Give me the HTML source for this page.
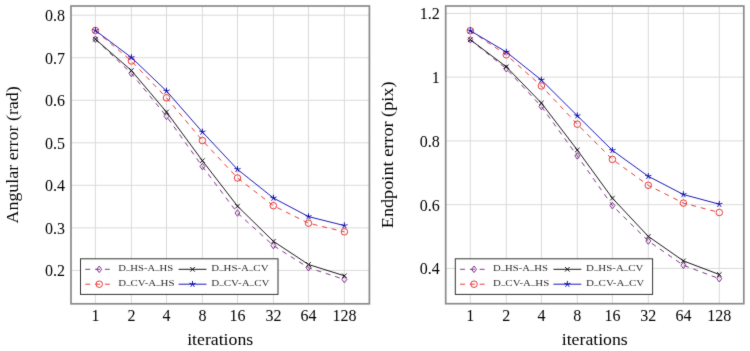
<!DOCTYPE html>
<html><head><meta charset="utf-8"><style>
html,body{margin:0;padding:0;background:#fff;}
#w{width:750px;height:351px;}
svg{display:block;font-family:"Liberation Serif",serif;}
</style></head><body><div id="w">
<svg width="750" height="351" viewBox="0 0 750 351">
<defs><filter id="bl" x="0" y="0" width="100%" height="100%" color-interpolation-filters="sRGB"><feConvolveMatrix order="3" kernelMatrix="1 8 1 8 64 8 1 8 1" divisor="100" edgeMode="duplicate"/></filter></defs>
<g filter="url(#bl)">
<rect width="750" height="351" fill="#fff"/>
<path d="M95.40,6.00 V303.80 M131.40,6.00 V303.80 M166.50,6.00 V303.80 M202.40,6.00 V303.80 M237.50,6.00 V303.80 M273.40,6.00 V303.80 M308.50,6.00 V303.80 M344.40,6.00 V303.80 M71.00,270.40 H369.40 M71.00,227.86 H369.40 M71.00,185.33 H369.40 M71.00,142.80 H369.40 M71.00,100.27 H369.40 M71.00,57.73 H369.40 M71.00,15.20 H369.40 " stroke="#dadada" stroke-width="1.0" fill="none"/>
<polyline points="95.40,39.20 131.40,73.50 166.50,116.30 202.40,166.50 237.50,213.00 273.40,245.60 308.50,267.70 344.40,279.50" fill="none" stroke="#742080" stroke-width="0.9" stroke-dasharray="4.9 4.9"/>
<path d="M95.40,35.93 L97.85,39.20 L95.40,42.47 L92.95,39.20 Z" fill="none" stroke="#742080" stroke-width="0.9"/>
<path d="M131.40,70.23 L133.85,73.50 L131.40,76.77 L128.95,73.50 Z" fill="none" stroke="#742080" stroke-width="0.9"/>
<path d="M166.50,113.03 L168.95,116.30 L166.50,119.57 L164.05,116.30 Z" fill="none" stroke="#742080" stroke-width="0.9"/>
<path d="M202.40,163.23 L204.85,166.50 L202.40,169.77 L199.95,166.50 Z" fill="none" stroke="#742080" stroke-width="0.9"/>
<path d="M237.50,209.73 L239.95,213.00 L237.50,216.27 L235.05,213.00 Z" fill="none" stroke="#742080" stroke-width="0.9"/>
<path d="M273.40,242.33 L275.85,245.60 L273.40,248.87 L270.95,245.60 Z" fill="none" stroke="#742080" stroke-width="0.9"/>
<path d="M308.50,264.43 L310.95,267.70 L308.50,270.97 L306.05,267.70 Z" fill="none" stroke="#742080" stroke-width="0.9"/>
<path d="M344.40,276.23 L346.85,279.50 L344.40,282.77 L341.95,279.50 Z" fill="none" stroke="#742080" stroke-width="0.9"/>
<polyline points="95.40,39.20 131.40,70.50 166.50,112.00 202.40,160.70 237.50,206.20 273.40,241.30 308.50,264.50 344.40,275.80" fill="none" stroke="#000000" stroke-width="0.9"/>
<path d="M93.09,36.89 L97.71,41.51 M93.09,41.51 L97.71,36.89" stroke="#000000" stroke-width="0.9"/>
<path d="M129.09,68.19 L133.71,72.81 M129.09,72.81 L133.71,68.19" stroke="#000000" stroke-width="0.9"/>
<path d="M164.19,109.69 L168.81,114.31 M164.19,114.31 L168.81,109.69" stroke="#000000" stroke-width="0.9"/>
<path d="M200.09,158.39 L204.71,163.01 M200.09,163.01 L204.71,158.39" stroke="#000000" stroke-width="0.9"/>
<path d="M235.19,203.89 L239.81,208.51 M235.19,208.51 L239.81,203.89" stroke="#000000" stroke-width="0.9"/>
<path d="M271.09,238.99 L275.71,243.61 M271.09,243.61 L275.71,238.99" stroke="#000000" stroke-width="0.9"/>
<path d="M306.19,262.19 L310.81,266.81 M306.19,266.81 L310.81,262.19" stroke="#000000" stroke-width="0.9"/>
<path d="M342.09,273.49 L346.71,278.11 M342.09,278.11 L346.71,273.49" stroke="#000000" stroke-width="0.9"/>
<polyline points="95.40,30.50 131.40,61.00 166.50,97.80 202.40,140.50 237.50,178.00 273.40,205.70 308.50,223.20 344.40,231.80" fill="none" stroke="#e82424" stroke-width="0.9" stroke-dasharray="4.9 4.9"/>
<circle cx="95.40" cy="30.50" r="3.27" fill="none" stroke="#e82424" stroke-width="0.9"/>
<circle cx="131.40" cy="61.00" r="3.27" fill="none" stroke="#e82424" stroke-width="0.9"/>
<circle cx="166.50" cy="97.80" r="3.27" fill="none" stroke="#e82424" stroke-width="0.9"/>
<circle cx="202.40" cy="140.50" r="3.27" fill="none" stroke="#e82424" stroke-width="0.9"/>
<circle cx="237.50" cy="178.00" r="3.27" fill="none" stroke="#e82424" stroke-width="0.9"/>
<circle cx="273.40" cy="205.70" r="3.27" fill="none" stroke="#e82424" stroke-width="0.9"/>
<circle cx="308.50" cy="223.20" r="3.27" fill="none" stroke="#e82424" stroke-width="0.9"/>
<circle cx="344.40" cy="231.80" r="3.27" fill="none" stroke="#e82424" stroke-width="0.9"/>
<polyline points="95.40,30.50 131.40,57.50 166.50,91.00 202.40,132.00 237.50,169.40 273.40,198.00 308.50,216.60 344.40,225.60" fill="none" stroke="#0000b0" stroke-width="0.9"/>
<path d="M95.40,30.50 L95.40,27.23 M95.40,30.50 L98.51,29.49 M95.40,30.50 L97.32,33.15 M95.40,30.50 L93.48,33.15 M95.40,30.50 L92.29,29.49 " stroke="#0000b0" stroke-width="0.9"/>
<path d="M131.40,57.50 L131.40,54.23 M131.40,57.50 L134.51,56.49 M131.40,57.50 L133.32,60.15 M131.40,57.50 L129.48,60.15 M131.40,57.50 L128.29,56.49 " stroke="#0000b0" stroke-width="0.9"/>
<path d="M166.50,91.00 L166.50,87.73 M166.50,91.00 L169.61,89.99 M166.50,91.00 L168.42,93.65 M166.50,91.00 L164.58,93.65 M166.50,91.00 L163.39,89.99 " stroke="#0000b0" stroke-width="0.9"/>
<path d="M202.40,132.00 L202.40,128.73 M202.40,132.00 L205.51,130.99 M202.40,132.00 L204.32,134.65 M202.40,132.00 L200.48,134.65 M202.40,132.00 L199.29,130.99 " stroke="#0000b0" stroke-width="0.9"/>
<path d="M237.50,169.40 L237.50,166.13 M237.50,169.40 L240.61,168.39 M237.50,169.40 L239.42,172.05 M237.50,169.40 L235.58,172.05 M237.50,169.40 L234.39,168.39 " stroke="#0000b0" stroke-width="0.9"/>
<path d="M273.40,198.00 L273.40,194.73 M273.40,198.00 L276.51,196.99 M273.40,198.00 L275.32,200.65 M273.40,198.00 L271.48,200.65 M273.40,198.00 L270.29,196.99 " stroke="#0000b0" stroke-width="0.9"/>
<path d="M308.50,216.60 L308.50,213.33 M308.50,216.60 L311.61,215.59 M308.50,216.60 L310.42,219.25 M308.50,216.60 L306.58,219.25 M308.50,216.60 L305.39,215.59 " stroke="#0000b0" stroke-width="0.9"/>
<path d="M344.40,225.60 L344.40,222.33 M344.40,225.60 L347.51,224.59 M344.40,225.60 L346.32,228.25 M344.40,225.60 L342.48,228.25 M344.40,225.60 L341.29,224.59 " stroke="#0000b0" stroke-width="0.9"/>
<rect x="80.50" y="258.80" width="197.50" height="35.60" fill="#fff" stroke="#333" stroke-width="1.0"/>
<path d="M85.30,269.30 H90.20 M95.10,269.30 H100.00 M104.90,269.30 H109.80" stroke="#742080" stroke-width="0.9"/>
<path d="M99.23,266.03 L101.68,269.30 L99.23,272.57 L96.78,269.30 Z" fill="none" stroke="#742080" stroke-width="0.9"/>
<text x="118.30" y="271.00" font-size="8" fill="#2a2a2a" textLength="54.9" lengthAdjust="spacingAndGlyphs">D<tspan font-size="6.5" font-weight="bold" dy="-0.6">_</tspan><tspan dy="0.6">HS-A</tspan><tspan font-size="6.5" font-weight="bold" dy="-0.6">_</tspan><tspan dy="0.6">HS</tspan></text>
<path d="M178.60,269.30 H206.48" stroke="#000000" stroke-width="0.9"/>
<path d="M190.22,266.99 L194.84,271.61 M190.22,271.61 L194.84,266.99" stroke="#000000" stroke-width="0.9"/>
<text x="211.30" y="271.00" font-size="8" fill="#2a2a2a" textLength="57.2" lengthAdjust="spacingAndGlyphs">D<tspan font-size="6.5" font-weight="bold" dy="-0.6">_</tspan><tspan dy="0.6">HS-A</tspan><tspan font-size="6.5" font-weight="bold" dy="-0.6">_</tspan><tspan dy="0.6">CV</tspan></text>
<path d="M85.30,284.20 H90.20 M95.10,284.20 H100.00 M104.90,284.20 H109.80" stroke="#e82424" stroke-width="0.9"/>
<circle cx="99.23" cy="284.20" r="3.27" fill="none" stroke="#e82424" stroke-width="0.9"/>
<text x="118.30" y="285.80" font-size="8" fill="#2a2a2a" textLength="56.2" lengthAdjust="spacingAndGlyphs">D<tspan font-size="6.5" font-weight="bold" dy="-0.6">_</tspan><tspan dy="0.6">CV-A</tspan><tspan font-size="6.5" font-weight="bold" dy="-0.6">_</tspan><tspan dy="0.6">HS</tspan></text>
<path d="M178.60,284.20 H206.48" stroke="#0000b0" stroke-width="0.9"/>
<path d="M192.53,284.20 L192.53,280.93 M192.53,284.20 L195.64,283.19 M192.53,284.20 L194.45,286.85 M192.53,284.20 L190.61,286.85 M192.53,284.20 L189.42,283.19 " stroke="#0000b0" stroke-width="0.9"/>
<text x="211.30" y="285.80" font-size="8" fill="#2a2a2a" textLength="58.2" lengthAdjust="spacingAndGlyphs">D<tspan font-size="6.5" font-weight="bold" dy="-0.6">_</tspan><tspan dy="0.6">CV-A</tspan><tspan font-size="6.5" font-weight="bold" dy="-0.6">_</tspan><tspan dy="0.6">CV</tspan></text>
<rect x="71.00" y="6.00" width="298.40" height="297.80" fill="none" stroke="#8a8a8a" stroke-width="1.7"/>
<text x="95.40" y="320.5" text-anchor="middle" font-size="16">1</text>
<text x="131.40" y="320.5" text-anchor="middle" font-size="16">2</text>
<text x="166.50" y="320.5" text-anchor="middle" font-size="16">4</text>
<text x="202.40" y="320.5" text-anchor="middle" font-size="16">8</text>
<text x="237.50" y="320.5" text-anchor="middle" font-size="16">16</text>
<text x="273.40" y="320.5" text-anchor="middle" font-size="16">32</text>
<text x="308.50" y="320.5" text-anchor="middle" font-size="16">64</text>
<text x="344.40" y="320.5" text-anchor="middle" font-size="16">128</text>
<text x="65.10" y="276.40" text-anchor="end" font-size="16">0.2</text>
<text x="65.10" y="233.86" text-anchor="end" font-size="16">0.3</text>
<text x="65.10" y="191.33" text-anchor="end" font-size="16">0.4</text>
<text x="65.10" y="148.80" text-anchor="end" font-size="16">0.5</text>
<text x="65.10" y="106.27" text-anchor="end" font-size="16">0.6</text>
<text x="65.10" y="63.73" text-anchor="end" font-size="16">0.7</text>
<text x="65.10" y="21.20" text-anchor="end" font-size="16">0.8</text>
<text x="220.20" y="345" text-anchor="middle" font-size="16" textLength="66" lengthAdjust="spacingAndGlyphs">iterations</text>
<text transform="translate(18.20,154.90) rotate(-90)" x="0" y="0" text-anchor="middle" font-size="16" textLength="137.2" lengthAdjust="spacingAndGlyphs">Angular error (rad)</text>
<path d="M470.30,6.00 V303.70 M506.30,6.00 V303.70 M541.40,6.00 V303.70 M577.30,6.00 V303.70 M612.40,6.00 V303.70 M648.30,6.00 V303.70 M683.40,6.00 V303.70 M719.30,6.00 V303.70 M445.70,268.40 H743.80 M445.70,204.65 H743.80 M445.70,140.90 H743.80 M445.70,77.15 H743.80 M445.70,13.40 H743.80 " stroke="#dadada" stroke-width="1.0" fill="none"/>
<polyline points="470.30,39.70 506.30,68.70 541.40,106.50 577.30,155.90 612.40,205.60 648.30,241.00 683.40,265.30 719.30,278.70" fill="none" stroke="#742080" stroke-width="0.9" stroke-dasharray="4.9 4.9"/>
<path d="M470.30,36.43 L472.75,39.70 L470.30,42.97 L467.85,39.70 Z" fill="none" stroke="#742080" stroke-width="0.9"/>
<path d="M506.30,65.43 L508.75,68.70 L506.30,71.97 L503.85,68.70 Z" fill="none" stroke="#742080" stroke-width="0.9"/>
<path d="M541.40,103.23 L543.85,106.50 L541.40,109.77 L538.95,106.50 Z" fill="none" stroke="#742080" stroke-width="0.9"/>
<path d="M577.30,152.63 L579.75,155.90 L577.30,159.17 L574.85,155.90 Z" fill="none" stroke="#742080" stroke-width="0.9"/>
<path d="M612.40,202.33 L614.85,205.60 L612.40,208.87 L609.95,205.60 Z" fill="none" stroke="#742080" stroke-width="0.9"/>
<path d="M648.30,237.73 L650.75,241.00 L648.30,244.27 L645.85,241.00 Z" fill="none" stroke="#742080" stroke-width="0.9"/>
<path d="M683.40,262.03 L685.85,265.30 L683.40,268.57 L680.95,265.30 Z" fill="none" stroke="#742080" stroke-width="0.9"/>
<path d="M719.30,275.43 L721.75,278.70 L719.30,281.97 L716.85,278.70 Z" fill="none" stroke="#742080" stroke-width="0.9"/>
<polyline points="470.30,39.70 506.30,66.80 541.40,103.00 577.30,150.00 612.40,198.20 648.30,236.40 683.40,260.90 719.30,274.50" fill="none" stroke="#000000" stroke-width="0.9"/>
<path d="M467.99,37.39 L472.61,42.01 M467.99,42.01 L472.61,37.39" stroke="#000000" stroke-width="0.9"/>
<path d="M503.99,64.49 L508.61,69.11 M503.99,69.11 L508.61,64.49" stroke="#000000" stroke-width="0.9"/>
<path d="M539.09,100.69 L543.71,105.31 M539.09,105.31 L543.71,100.69" stroke="#000000" stroke-width="0.9"/>
<path d="M574.99,147.69 L579.61,152.31 M574.99,152.31 L579.61,147.69" stroke="#000000" stroke-width="0.9"/>
<path d="M610.09,195.89 L614.71,200.51 M610.09,200.51 L614.71,195.89" stroke="#000000" stroke-width="0.9"/>
<path d="M645.99,234.09 L650.61,238.71 M645.99,238.71 L650.61,234.09" stroke="#000000" stroke-width="0.9"/>
<path d="M681.09,258.59 L685.71,263.21 M681.09,263.21 L685.71,258.59" stroke="#000000" stroke-width="0.9"/>
<path d="M716.99,272.19 L721.61,276.81 M716.99,276.81 L721.61,272.19" stroke="#000000" stroke-width="0.9"/>
<polyline points="470.30,30.70 506.30,54.80 541.40,86.00 577.30,124.20 612.40,159.40 648.30,185.30 683.40,203.10 719.30,212.50" fill="none" stroke="#e82424" stroke-width="0.9" stroke-dasharray="4.9 4.9"/>
<circle cx="470.30" cy="30.70" r="3.27" fill="none" stroke="#e82424" stroke-width="0.9"/>
<circle cx="506.30" cy="54.80" r="3.27" fill="none" stroke="#e82424" stroke-width="0.9"/>
<circle cx="541.40" cy="86.00" r="3.27" fill="none" stroke="#e82424" stroke-width="0.9"/>
<circle cx="577.30" cy="124.20" r="3.27" fill="none" stroke="#e82424" stroke-width="0.9"/>
<circle cx="612.40" cy="159.40" r="3.27" fill="none" stroke="#e82424" stroke-width="0.9"/>
<circle cx="648.30" cy="185.30" r="3.27" fill="none" stroke="#e82424" stroke-width="0.9"/>
<circle cx="683.40" cy="203.10" r="3.27" fill="none" stroke="#e82424" stroke-width="0.9"/>
<circle cx="719.30" cy="212.50" r="3.27" fill="none" stroke="#e82424" stroke-width="0.9"/>
<polyline points="470.30,30.70 506.30,52.00 541.40,80.00 577.30,115.70 612.40,150.40 648.30,176.30 683.40,194.50 719.30,204.20" fill="none" stroke="#0000b0" stroke-width="0.9"/>
<path d="M470.30,30.70 L470.30,27.43 M470.30,30.70 L473.41,29.69 M470.30,30.70 L472.22,33.35 M470.30,30.70 L468.38,33.35 M470.30,30.70 L467.19,29.69 " stroke="#0000b0" stroke-width="0.9"/>
<path d="M506.30,52.00 L506.30,48.73 M506.30,52.00 L509.41,50.99 M506.30,52.00 L508.22,54.65 M506.30,52.00 L504.38,54.65 M506.30,52.00 L503.19,50.99 " stroke="#0000b0" stroke-width="0.9"/>
<path d="M541.40,80.00 L541.40,76.73 M541.40,80.00 L544.51,78.99 M541.40,80.00 L543.32,82.65 M541.40,80.00 L539.48,82.65 M541.40,80.00 L538.29,78.99 " stroke="#0000b0" stroke-width="0.9"/>
<path d="M577.30,115.70 L577.30,112.43 M577.30,115.70 L580.41,114.69 M577.30,115.70 L579.22,118.35 M577.30,115.70 L575.38,118.35 M577.30,115.70 L574.19,114.69 " stroke="#0000b0" stroke-width="0.9"/>
<path d="M612.40,150.40 L612.40,147.13 M612.40,150.40 L615.51,149.39 M612.40,150.40 L614.32,153.05 M612.40,150.40 L610.48,153.05 M612.40,150.40 L609.29,149.39 " stroke="#0000b0" stroke-width="0.9"/>
<path d="M648.30,176.30 L648.30,173.03 M648.30,176.30 L651.41,175.29 M648.30,176.30 L650.22,178.95 M648.30,176.30 L646.38,178.95 M648.30,176.30 L645.19,175.29 " stroke="#0000b0" stroke-width="0.9"/>
<path d="M683.40,194.50 L683.40,191.23 M683.40,194.50 L686.51,193.49 M683.40,194.50 L685.32,197.15 M683.40,194.50 L681.48,197.15 M683.40,194.50 L680.29,193.49 " stroke="#0000b0" stroke-width="0.9"/>
<path d="M719.30,204.20 L719.30,200.93 M719.30,204.20 L722.41,203.19 M719.30,204.20 L721.22,206.85 M719.30,204.20 L717.38,206.85 M719.30,204.20 L716.19,203.19 " stroke="#0000b0" stroke-width="0.9"/>
<rect x="455.30" y="258.80" width="197.30" height="35.60" fill="#fff" stroke="#333" stroke-width="1.0"/>
<path d="M460.10,269.30 H465.00 M469.90,269.30 H474.80 M479.70,269.30 H484.60" stroke="#742080" stroke-width="0.9"/>
<path d="M474.03,266.03 L476.48,269.30 L474.03,272.57 L471.58,269.30 Z" fill="none" stroke="#742080" stroke-width="0.9"/>
<text x="493.10" y="271.00" font-size="8" fill="#2a2a2a" textLength="54.9" lengthAdjust="spacingAndGlyphs">D<tspan font-size="6.5" font-weight="bold" dy="-0.6">_</tspan><tspan dy="0.6">HS-A</tspan><tspan font-size="6.5" font-weight="bold" dy="-0.6">_</tspan><tspan dy="0.6">HS</tspan></text>
<path d="M553.40,269.30 H581.28" stroke="#000000" stroke-width="0.9"/>
<path d="M565.02,266.99 L569.64,271.61 M565.02,271.61 L569.64,266.99" stroke="#000000" stroke-width="0.9"/>
<text x="586.10" y="271.00" font-size="8" fill="#2a2a2a" textLength="57.2" lengthAdjust="spacingAndGlyphs">D<tspan font-size="6.5" font-weight="bold" dy="-0.6">_</tspan><tspan dy="0.6">HS-A</tspan><tspan font-size="6.5" font-weight="bold" dy="-0.6">_</tspan><tspan dy="0.6">CV</tspan></text>
<path d="M460.10,284.20 H465.00 M469.90,284.20 H474.80 M479.70,284.20 H484.60" stroke="#e82424" stroke-width="0.9"/>
<circle cx="474.03" cy="284.20" r="3.27" fill="none" stroke="#e82424" stroke-width="0.9"/>
<text x="493.10" y="285.80" font-size="8" fill="#2a2a2a" textLength="56.2" lengthAdjust="spacingAndGlyphs">D<tspan font-size="6.5" font-weight="bold" dy="-0.6">_</tspan><tspan dy="0.6">CV-A</tspan><tspan font-size="6.5" font-weight="bold" dy="-0.6">_</tspan><tspan dy="0.6">HS</tspan></text>
<path d="M553.40,284.20 H581.28" stroke="#0000b0" stroke-width="0.9"/>
<path d="M567.33,284.20 L567.33,280.93 M567.33,284.20 L570.44,283.19 M567.33,284.20 L569.25,286.85 M567.33,284.20 L565.41,286.85 M567.33,284.20 L564.22,283.19 " stroke="#0000b0" stroke-width="0.9"/>
<text x="586.10" y="285.80" font-size="8" fill="#2a2a2a" textLength="58.2" lengthAdjust="spacingAndGlyphs">D<tspan font-size="6.5" font-weight="bold" dy="-0.6">_</tspan><tspan dy="0.6">CV-A</tspan><tspan font-size="6.5" font-weight="bold" dy="-0.6">_</tspan><tspan dy="0.6">CV</tspan></text>
<rect x="445.70" y="6.00" width="298.10" height="297.70" fill="none" stroke="#8a8a8a" stroke-width="1.7"/>
<text x="470.30" y="320.5" text-anchor="middle" font-size="16">1</text>
<text x="506.30" y="320.5" text-anchor="middle" font-size="16">2</text>
<text x="541.40" y="320.5" text-anchor="middle" font-size="16">4</text>
<text x="577.30" y="320.5" text-anchor="middle" font-size="16">8</text>
<text x="612.40" y="320.5" text-anchor="middle" font-size="16">16</text>
<text x="648.30" y="320.5" text-anchor="middle" font-size="16">32</text>
<text x="683.40" y="320.5" text-anchor="middle" font-size="16">64</text>
<text x="719.30" y="320.5" text-anchor="middle" font-size="16">128</text>
<text x="439.80" y="274.40" text-anchor="end" font-size="16">0.4</text>
<text x="439.80" y="210.65" text-anchor="end" font-size="16">0.6</text>
<text x="439.80" y="146.90" text-anchor="end" font-size="16">0.8</text>
<text x="439.80" y="83.15" text-anchor="end" font-size="16">1</text>
<text x="439.80" y="19.40" text-anchor="end" font-size="16">1.2</text>
<text x="594.75" y="345" text-anchor="middle" font-size="16" textLength="66" lengthAdjust="spacingAndGlyphs">iterations</text>
<text transform="translate(392.70,154.85) rotate(-90)" x="0" y="0" text-anchor="middle" font-size="16" textLength="146.8" lengthAdjust="spacingAndGlyphs">Endpoint error (pix)</text>
</g>
</svg></div>
</body></html>
